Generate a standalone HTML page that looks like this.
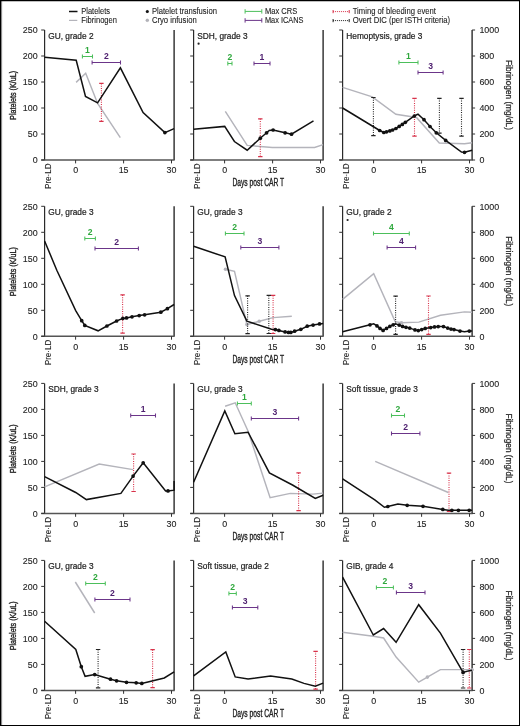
<!DOCTYPE html><html><head><meta charset="utf-8"><style>
html,body{margin:0;padding:0;background:#fff;}
svg{display:block;will-change:transform;}
text{font-family:"Liberation Sans", sans-serif;}
.t{stroke:#222;stroke-width:0.22px;}
.t2{stroke:#222;stroke-width:0.1px;}
</style></head><body>
<svg width="520" height="726" viewBox="0 0 520 726">
<rect x="0" y="0" width="520" height="726" fill="#fff"/>
<g font-size="8.4" fill="#222" class="t2">
<line x1="69" y1="11.5" x2="77.5" y2="11.5" stroke="#111" stroke-width="1.5"/>
<text x="81.3" y="13.9" textLength="28.7" lengthAdjust="spacingAndGlyphs">Platelets</text>
<line x1="69" y1="20.4" x2="77.3" y2="20.4" stroke="#b4b4bb" stroke-width="1.2"/>
<text x="81.3" y="22.9" textLength="35.6" lengthAdjust="spacingAndGlyphs">Fibrinogen</text>
<circle cx="147.3" cy="11.6" r="1.5" fill="#111"/>
<text x="151.9" y="13.9" textLength="65" lengthAdjust="spacingAndGlyphs">Platelet transfusion</text>
<circle cx="147.3" cy="20.3" r="1.5" fill="#b4b4bb"/>
<text x="151.9" y="22.9" textLength="44.8" lengthAdjust="spacingAndGlyphs">Cryo infusion</text>
<path d="M245.1 11.4H261.8M245.1 9.2V13.6M261.8 9.2V13.6" stroke="#4cbf5b" stroke-width="1.00" fill="none"/>
<text x="264.9" y="13.9" textLength="32.3" lengthAdjust="spacingAndGlyphs">Max CRS</text>
<path d="M245.1 20.4H261.8M245.1 18.2V22.6M261.8 18.2V22.6" stroke="#6b3589" stroke-width="1.00" fill="none"/>
<text x="264.9" y="22.9" textLength="38.6" lengthAdjust="spacingAndGlyphs">Max ICANS</text>
<path d="M333.1 11.6H349.2" stroke="#d8324a" stroke-width="1" stroke-dasharray="1,1" fill="none"/><path d="M333.1 10.0V13.2M349.2 10.0V13.2" stroke="#d8324a" stroke-width="1" fill="none"/>
<text x="352.7" y="13.9" textLength="83.3" lengthAdjust="spacingAndGlyphs">Timing of bleeding event</text>
<path d="M333.1 20.6H349.2" stroke="#222" stroke-width="1" stroke-dasharray="1,1" fill="none"/><path d="M333.1 19.0V22.2M349.2 19.0V22.2" stroke="#222" stroke-width="1" fill="none"/>
<text x="352.7" y="22.9" textLength="97.5" lengthAdjust="spacingAndGlyphs">Overt DIC (per ISTH criteria)</text>
</g>
<g>
<path d="M44.6 30.0V160.0" stroke="#2a2a2a" stroke-width="1.2" fill="none"/>
<path d="M174.1 30.0V160.0" stroke="#1a1a1a" stroke-width="1.3" fill="none"/>
<path d="M41.2 160.0H174.7" stroke="#555" stroke-width="1.5" fill="none"/>
<path d="M41.2 30.0H44.6M41.2 56.0H44.6M41.2 82.0H44.6M41.2 108.0H44.6M41.2 134.0H44.6M41.2 160.0H44.6M75.6 160.0V163.4M123.6 160.0V163.4M171.5 160.0V163.4" stroke="#333" stroke-width="1" fill="none"/>
<g font-size="8.9" fill="#222" class="t2">
<text x="37.6" y="33.2" text-anchor="end">250</text>
<text x="37.6" y="59.2" text-anchor="end">200</text>
<text x="37.6" y="85.2" text-anchor="end">150</text>
<text x="37.6" y="111.2" text-anchor="end">100</text>
<text x="37.6" y="137.2" text-anchor="end">50</text>
<text x="37.6" y="163.2" text-anchor="end">0</text>
<text x="75.6" y="173.3" text-anchor="middle">0</text>
<text x="123.6" y="173.3" text-anchor="middle">15</text>
<text x="171.5" y="173.3" text-anchor="middle">30</text>
<text transform="translate(50.9 188.9) rotate(-90)" font-size="9.1" textLength="25.4" lengthAdjust="spacingAndGlyphs">Pre&#183;LD</text>
</g>
<text x="48.3" y="38.5" font-size="8.8" fill="#222" class="t" textLength="45.21" lengthAdjust="spacingAndGlyphs">GU, grade 2</text>
<polyline points="76.1,82.4 85.7,73.3 97.6,103.4 120.3,137.7" fill="none" stroke="#b4b4bb" stroke-width="1.45" stroke-linejoin="miter"/>
<path d="M101.4 83.4V121.4" stroke="#d8324a" stroke-width="1.1" stroke-dasharray="1,1.3" fill="none"/><path d="M99.2 83.4H103.6M99.2 121.4H103.6" stroke="#d8324a" stroke-width="1.2" fill="none"/>
<polyline points="44.6,57.3 76.2,60.2 85.5,96.4 97.6,102.8 120.4,67.8 143.1,112.6 164.9,132.6 174.1,128.6" fill="none" stroke="#111" stroke-width="1.5" stroke-linejoin="miter"/>
<circle cx="164.9" cy="132.6" r="1.85" fill="#111"/>
<path d="M82.4 56.5H92.5M82.4 54.5V58.5M92.5 54.5V58.5" stroke="#4cbf5b" stroke-width="1.05" fill="none"/>
<text x="87.5" y="53.1" font-size="8.6" font-weight="bold" fill="#2fa83d" text-anchor="middle">1</text>
<path d="M92.1 62.5H120.5M92.1 60.5V64.5M120.5 60.5V64.5" stroke="#6b3589" stroke-width="1.05" fill="none"/>
<text x="106.3" y="58.5" font-size="8.6" font-weight="bold" fill="#4f2170" text-anchor="middle">2</text>
</g>
<g>
<path d="M193.6 30.0V160.0" stroke="#2a2a2a" stroke-width="1.2" fill="none"/>
<path d="M323.1 30.0V160.0" stroke="#1a1a1a" stroke-width="1.3" fill="none"/>
<path d="M190.2 160.0H323.7" stroke="#555" stroke-width="1.5" fill="none"/>
<path d="M190.2 30.0H193.6M190.2 56.0H193.6M190.2 82.0H193.6M190.2 108.0H193.6M190.2 134.0H193.6M190.2 160.0H193.6M224.6 160.0V163.4M272.6 160.0V163.4M320.5 160.0V163.4" stroke="#333" stroke-width="1" fill="none"/>
<g font-size="8.9" fill="#222" class="t2">
<text x="224.6" y="173.3" text-anchor="middle">0</text>
<text x="272.6" y="173.3" text-anchor="middle">15</text>
<text x="320.5" y="173.3" text-anchor="middle">30</text>
<text transform="translate(199.9 188.9) rotate(-90)" font-size="9.1" textLength="25.4" lengthAdjust="spacingAndGlyphs">Pre&#183;LD</text>
</g>
<text x="197.3" y="38.5" font-size="8.8" fill="#222" class="t" textLength="50.29" lengthAdjust="spacingAndGlyphs">SDH, grade 3</text>
<circle cx="198.6" cy="43.7" r="1.1" fill="#222"/>
<polyline points="225.3,111.4 247.2,145.4 272.3,147.4 314.6,147.4 323.1,144.6" fill="none" stroke="#b4b4bb" stroke-width="1.45" stroke-linejoin="miter"/>
<path d="M260.3 118.8V156.6" stroke="#d8324a" stroke-width="1.1" stroke-dasharray="1,1.3" fill="none"/><path d="M258.1 118.8H262.5M258.1 156.6H262.5" stroke="#d8324a" stroke-width="1.2" fill="none"/>
<polyline points="193.6,129.3 224.7,126.4 234.4,141.5 247.2,150.2 260.3,138.2 266.6,132.8 269.2,130.5 273.1,130.0 285.1,132.8 291.5,134.2 313.5,120.8" fill="none" stroke="#111" stroke-width="1.5" stroke-linejoin="miter"/>
<circle cx="260.3" cy="138.2" r="1.85" fill="#111"/>
<circle cx="266.6" cy="132.8" r="1.85" fill="#111"/>
<circle cx="273.1" cy="130.0" r="1.85" fill="#111"/>
<circle cx="285.1" cy="132.8" r="1.85" fill="#111"/>
<circle cx="291.5" cy="134.2" r="1.85" fill="#111"/>
<path d="M227.8 63.5H232.0M227.8 61.5V65.5M232.0 61.5V65.5" stroke="#4cbf5b" stroke-width="1.05" fill="none"/>
<text x="229.9" y="60.1" font-size="8.6" font-weight="bold" fill="#2fa83d" text-anchor="middle">2</text>
<path d="M254.0 63.5H270.0M254.0 61.5V65.5M270.0 61.5V65.5" stroke="#6b3589" stroke-width="1.05" fill="none"/>
<text x="262.0" y="59.5" font-size="8.6" font-weight="bold" fill="#4f2170" text-anchor="middle">1</text>
</g>
<g>
<path d="M342.6 30.0V160.0" stroke="#2a2a2a" stroke-width="1.2" fill="none"/>
<path d="M472.1 30.0V160.0" stroke="#1a1a1a" stroke-width="1.3" fill="none"/>
<path d="M339.2 160.0H472.7" stroke="#555" stroke-width="1.5" fill="none"/>
<path d="M339.2 30.0H342.6M472.1 30.0H475.1M339.2 56.0H342.6M472.1 56.0H475.1M339.2 82.0H342.6M472.1 82.0H475.1M339.2 108.0H342.6M472.1 108.0H475.1M339.2 134.0H342.6M472.1 134.0H475.1M339.2 160.0H342.6M472.1 160.0H475.1M373.6 160.0V163.4M421.6 160.0V163.4M469.5 160.0V163.4" stroke="#333" stroke-width="1" fill="none"/>
<g font-size="8.9" fill="#222" class="t2">
<text x="479.4" y="33.2">1000</text>
<text x="479.4" y="59.2">800</text>
<text x="479.4" y="85.2">600</text>
<text x="479.4" y="111.2">400</text>
<text x="479.4" y="137.2">200</text>
<text x="479.4" y="163.2">0</text>
<text x="373.6" y="173.3" text-anchor="middle">0</text>
<text x="421.6" y="173.3" text-anchor="middle">15</text>
<text x="469.5" y="173.3" text-anchor="middle">30</text>
<text transform="translate(348.9 188.9) rotate(-90)" font-size="9.1" textLength="25.4" lengthAdjust="spacingAndGlyphs">Pre&#183;LD</text>
</g>
<text x="346.3" y="38.5" font-size="8.8" fill="#222" class="t" textLength="76.12" lengthAdjust="spacingAndGlyphs">Hemoptysis, grade 3</text>
<polyline points="342.6,87.4 372.3,96.8 395.9,114.3 416.5,117.5 439.3,143.0 464.5,143.7 472.1,142.7" fill="none" stroke="#b4b4bb" stroke-width="1.45" stroke-linejoin="miter"/>
<path d="M373.4 97.5V135.6" stroke="#222" stroke-width="1.1" stroke-dasharray="1,1.3" fill="none"/><path d="M371.2 97.5H375.6M371.2 135.6H375.6" stroke="#222" stroke-width="1.2" fill="none"/>
<path d="M439.4 98.3V133.2" stroke="#222" stroke-width="1.1" stroke-dasharray="1,1.3" fill="none"/><path d="M437.2 98.3H441.6M437.2 133.2H441.6" stroke="#222" stroke-width="1.2" fill="none"/>
<path d="M461.5 98.3V136.2" stroke="#222" stroke-width="1.1" stroke-dasharray="1,1.3" fill="none"/><path d="M459.3 98.3H463.7M459.3 136.2H463.7" stroke="#222" stroke-width="1.2" fill="none"/>
<path d="M414.5 98.3V136.2" stroke="#d8324a" stroke-width="1.1" stroke-dasharray="1,1.3" fill="none"/><path d="M412.3 98.3H416.7M412.3 136.2H416.7" stroke="#d8324a" stroke-width="1.2" fill="none"/>
<polyline points="342.6,108.0 379.7,130.5 383.8,132.5 386.5,131.8 389.8,130.9 392.6,130.0 395.9,128.5 399.2,126.4 402.3,124.4 405.3,122.3 414.3,116.0 418.0,114.2 424.0,119.7 430.0,126.5 436.3,132.8 445.7,140.4 461.5,152.0 464.5,152.3 472.1,150.2" fill="none" stroke="#111" stroke-width="1.5" stroke-linejoin="miter"/>
<circle cx="379.7" cy="130.5" r="1.85" fill="#111"/>
<circle cx="383.8" cy="132.5" r="1.85" fill="#111"/>
<circle cx="386.5" cy="131.8" r="1.85" fill="#111"/>
<circle cx="389.8" cy="130.9" r="1.85" fill="#111"/>
<circle cx="392.6" cy="130.0" r="1.85" fill="#111"/>
<circle cx="395.9" cy="128.5" r="1.85" fill="#111"/>
<circle cx="399.2" cy="126.4" r="1.85" fill="#111"/>
<circle cx="402.3" cy="124.4" r="1.85" fill="#111"/>
<circle cx="405.3" cy="122.3" r="1.85" fill="#111"/>
<circle cx="414.3" cy="116.0" r="1.85" fill="#111"/>
<circle cx="424.0" cy="119.7" r="1.85" fill="#111"/>
<circle cx="430.0" cy="126.5" r="1.85" fill="#111"/>
<circle cx="436.3" cy="132.8" r="1.85" fill="#111"/>
<circle cx="445.7" cy="140.4" r="1.85" fill="#111"/>
<circle cx="464.5" cy="152.3" r="1.85" fill="#111"/>
<path d="M398.9 62.5H418.0M398.9 60.5V64.5M418.0 60.5V64.5" stroke="#4cbf5b" stroke-width="1.05" fill="none"/>
<text x="408.4" y="59.1" font-size="8.6" font-weight="bold" fill="#2fa83d" text-anchor="middle">1</text>
<path d="M418.0 72.5H443.1M418.0 70.5V74.5M443.1 70.5V74.5" stroke="#6b3589" stroke-width="1.05" fill="none"/>
<text x="430.6" y="68.5" font-size="8.6" font-weight="bold" fill="#4f2170" text-anchor="middle">3</text>
</g>
<g>
<path d="M44.6 206.3V336.3" stroke="#2a2a2a" stroke-width="1.2" fill="none"/>
<path d="M174.1 206.3V336.3" stroke="#1a1a1a" stroke-width="1.3" fill="none"/>
<path d="M41.2 336.3H174.7" stroke="#555" stroke-width="1.5" fill="none"/>
<path d="M41.2 206.3H44.6M41.2 232.3H44.6M41.2 258.3H44.6M41.2 284.3H44.6M41.2 310.3H44.6M41.2 336.3H44.6M75.6 336.3V339.7M123.6 336.3V339.7M171.5 336.3V339.7" stroke="#333" stroke-width="1" fill="none"/>
<g font-size="8.9" fill="#222" class="t2">
<text x="37.6" y="209.5" text-anchor="end">250</text>
<text x="37.6" y="235.5" text-anchor="end">200</text>
<text x="37.6" y="261.5" text-anchor="end">150</text>
<text x="37.6" y="287.5" text-anchor="end">100</text>
<text x="37.6" y="313.5" text-anchor="end">50</text>
<text x="37.6" y="339.5" text-anchor="end">0</text>
<text x="75.6" y="349.6" text-anchor="middle">0</text>
<text x="123.6" y="349.6" text-anchor="middle">15</text>
<text x="171.5" y="349.6" text-anchor="middle">30</text>
<text transform="translate(50.9 365.2) rotate(-90)" font-size="9.1" textLength="25.4" lengthAdjust="spacingAndGlyphs">Pre&#183;LD</text>
</g>
<text x="48.3" y="214.9" font-size="8.8" fill="#222" class="t" textLength="45.21" lengthAdjust="spacingAndGlyphs">GU, grade 3</text>
<path d="M122.6 294.9V333.1" stroke="#d8324a" stroke-width="1.1" stroke-dasharray="1,1.3" fill="none"/><path d="M120.4 294.9H124.8M120.4 333.1H124.8" stroke="#d8324a" stroke-width="1.2" fill="none"/>
<polyline points="44.6,241.0 56.8,270.2 75.7,310.6 81.7,320.7 84.8,325.4 98.1,330.8 106.9,326.0 116.6,321.0 122.8,318.4 126.5,317.9 132.0,316.8 139.2,315.6 144.6,314.8 160.8,312.2 167.4,308.7 174.1,304.5" fill="none" stroke="#111" stroke-width="1.5" stroke-linejoin="miter"/>
<circle cx="81.7" cy="320.7" r="1.85" fill="#111"/>
<circle cx="84.8" cy="325.4" r="1.85" fill="#111"/>
<circle cx="106.9" cy="326.0" r="1.85" fill="#111"/>
<circle cx="116.6" cy="321.0" r="1.85" fill="#111"/>
<circle cx="122.8" cy="318.4" r="1.85" fill="#111"/>
<circle cx="126.5" cy="317.9" r="1.85" fill="#111"/>
<circle cx="132.0" cy="316.8" r="1.85" fill="#111"/>
<circle cx="139.2" cy="315.6" r="1.85" fill="#111"/>
<circle cx="144.6" cy="314.8" r="1.85" fill="#111"/>
<circle cx="160.8" cy="312.2" r="1.85" fill="#111"/>
<circle cx="167.4" cy="308.7" r="1.85" fill="#111"/>
<path d="M84.8 238.5H95.4M84.8 236.5V240.5M95.4 236.5V240.5" stroke="#4cbf5b" stroke-width="1.05" fill="none"/>
<text x="90.1" y="235.1" font-size="8.6" font-weight="bold" fill="#2fa83d" text-anchor="middle">2</text>
<path d="M95.0 248.5H138.4M95.0 246.5V250.5M138.4 246.5V250.5" stroke="#6b3589" stroke-width="1.05" fill="none"/>
<text x="116.7" y="244.5" font-size="8.6" font-weight="bold" fill="#4f2170" text-anchor="middle">2</text>
</g>
<g>
<path d="M193.6 206.3V336.3" stroke="#2a2a2a" stroke-width="1.2" fill="none"/>
<path d="M323.1 206.3V336.3" stroke="#1a1a1a" stroke-width="1.3" fill="none"/>
<path d="M190.2 336.3H323.7" stroke="#555" stroke-width="1.5" fill="none"/>
<path d="M190.2 206.3H193.6M190.2 232.3H193.6M190.2 258.3H193.6M190.2 284.3H193.6M190.2 310.3H193.6M190.2 336.3H193.6M224.6 336.3V339.7M272.6 336.3V339.7M320.5 336.3V339.7" stroke="#333" stroke-width="1" fill="none"/>
<g font-size="8.9" fill="#222" class="t2">
<text x="224.6" y="349.6" text-anchor="middle">0</text>
<text x="272.6" y="349.6" text-anchor="middle">15</text>
<text x="320.5" y="349.6" text-anchor="middle">30</text>
<text transform="translate(199.9 365.2) rotate(-90)" font-size="9.1" textLength="25.4" lengthAdjust="spacingAndGlyphs">Pre&#183;LD</text>
</g>
<text x="197.3" y="214.9" font-size="8.8" fill="#222" class="t" textLength="45.21" lengthAdjust="spacingAndGlyphs">GU, grade 3</text>
<polyline points="225.5,269.3 234.5,271.4 246.9,324.6 259.2,321.2 273.1,317.6 291.8,316.2" fill="none" stroke="#b4b4bb" stroke-width="1.45" stroke-linejoin="miter"/>
<circle cx="225.5" cy="269.3" r="1.8" fill="#b4b4bb"/>
<circle cx="246.9" cy="324.6" r="1.8" fill="#b4b4bb"/>
<circle cx="259.2" cy="321.2" r="1.8" fill="#b4b4bb"/>
<path d="M247.6 295.8V333.7" stroke="#222" stroke-width="1.1" stroke-dasharray="1,1.3" fill="none"/><path d="M245.4 295.8H249.8M245.4 333.7H249.8" stroke="#222" stroke-width="1.2" fill="none"/>
<path d="M268.8 295.4V333.5" stroke="#222" stroke-width="1.1" stroke-dasharray="1,1.3" fill="none"/><path d="M266.6 295.4H271.0M266.6 333.5H271.0" stroke="#222" stroke-width="1.2" fill="none"/>
<path d="M273.1 295.4V333.5" stroke="#d8324a" stroke-width="1.1" stroke-dasharray="1,1.3" fill="none"/><path d="M270.9 295.4H275.3M270.9 333.5H275.3" stroke="#d8324a" stroke-width="1.2" fill="none"/>
<polyline points="193.6,246.2 225.1,256.9 234.5,295.6 246.9,321.1 271.5,329.3 275.4,329.6 278.9,330.4 285.1,331.9 288.5,332.4 290.8,332.4 294.6,331.2 300.8,329.3 307.2,326.2 313.1,325.1 319.5,323.9 323.1,323.6" fill="none" stroke="#111" stroke-width="1.5" stroke-linejoin="miter"/>
<circle cx="275.4" cy="329.6" r="1.85" fill="#111"/>
<circle cx="278.9" cy="330.4" r="1.85" fill="#111"/>
<circle cx="285.1" cy="331.9" r="1.85" fill="#111"/>
<circle cx="288.5" cy="332.4" r="1.85" fill="#111"/>
<circle cx="290.8" cy="332.4" r="1.85" fill="#111"/>
<circle cx="294.6" cy="331.2" r="1.85" fill="#111"/>
<circle cx="300.8" cy="329.3" r="1.85" fill="#111"/>
<circle cx="307.2" cy="326.2" r="1.85" fill="#111"/>
<circle cx="313.1" cy="325.1" r="1.85" fill="#111"/>
<circle cx="319.5" cy="323.9" r="1.85" fill="#111"/>
<path d="M225.4 233.5H244.0M225.4 231.5V235.5M244.0 231.5V235.5" stroke="#4cbf5b" stroke-width="1.05" fill="none"/>
<text x="234.7" y="230.1" font-size="8.6" font-weight="bold" fill="#2fa83d" text-anchor="middle">2</text>
<path d="M240.8 247.5H278.9M240.8 245.5V249.5M278.9 245.5V249.5" stroke="#6b3589" stroke-width="1.05" fill="none"/>
<text x="259.9" y="243.5" font-size="8.6" font-weight="bold" fill="#4f2170" text-anchor="middle">3</text>
</g>
<g>
<path d="M342.6 206.3V336.3" stroke="#2a2a2a" stroke-width="1.2" fill="none"/>
<path d="M472.1 206.3V336.3" stroke="#1a1a1a" stroke-width="1.3" fill="none"/>
<path d="M339.2 336.3H472.7" stroke="#555" stroke-width="1.5" fill="none"/>
<path d="M339.2 206.3H342.6M472.1 206.3H475.1M339.2 232.3H342.6M472.1 232.3H475.1M339.2 258.3H342.6M472.1 258.3H475.1M339.2 284.3H342.6M472.1 284.3H475.1M339.2 310.3H342.6M472.1 310.3H475.1M339.2 336.3H342.6M472.1 336.3H475.1M373.6 336.3V339.7M421.6 336.3V339.7M469.5 336.3V339.7" stroke="#333" stroke-width="1" fill="none"/>
<g font-size="8.9" fill="#222" class="t2">
<text x="479.4" y="209.5">1000</text>
<text x="479.4" y="235.5">800</text>
<text x="479.4" y="261.5">600</text>
<text x="479.4" y="287.5">400</text>
<text x="479.4" y="313.5">200</text>
<text x="479.4" y="339.5">0</text>
<text x="373.6" y="349.6" text-anchor="middle">0</text>
<text x="421.6" y="349.6" text-anchor="middle">15</text>
<text x="469.5" y="349.6" text-anchor="middle">30</text>
<text transform="translate(348.9 365.2) rotate(-90)" font-size="9.1" textLength="25.4" lengthAdjust="spacingAndGlyphs">Pre&#183;LD</text>
</g>
<text x="346.3" y="214.9" font-size="8.8" fill="#222" class="t" textLength="45.21" lengthAdjust="spacingAndGlyphs">GU, grade 2</text>
<circle cx="347.6" cy="220.0" r="1.1" fill="#222"/>
<polyline points="342.6,299.4 373.7,273.6 395.2,321.6 401.5,322.8 418.8,322.1 440.5,315.2 464.5,311.9 472.1,312.2" fill="none" stroke="#b4b4bb" stroke-width="1.45" stroke-linejoin="miter"/>
<circle cx="401.5" cy="322.8" r="1.8" fill="#b4b4bb"/>
<path d="M395.6 296.1V334.3" stroke="#222" stroke-width="1.1" stroke-dasharray="1,1.3" fill="none"/><path d="M393.4 296.1H397.8M393.4 334.3H397.8" stroke="#222" stroke-width="1.2" fill="none"/>
<path d="M428.5 296.0V334.3" stroke="#d8324a" stroke-width="1.1" stroke-dasharray="1,1.3" fill="none"/><path d="M426.3 296.0H430.7M426.3 334.3H430.7" stroke="#d8324a" stroke-width="1.2" fill="none"/>
<polyline points="342.6,331.8 370.0,324.8 373.7,323.8 377.0,325.9 380.0,328.4 383.1,330.4 386.5,328.4 389.8,326.4 393.2,324.8 395.6,323.8 399.2,325.1 402.6,326.4 406.0,327.3 409.7,328.1 415.0,329.9 418.3,330.6 421.7,329.6 425.2,328.4 430.7,327.6 434.5,326.9 438.2,326.6 443.5,326.6 447.7,328.1 451.0,329.1 454.0,329.6 460.0,331.1 464.5,331.8 469.3,331.1 472.1,330.9" fill="none" stroke="#111" stroke-width="1.5" stroke-linejoin="miter"/>
<circle cx="370.0" cy="324.8" r="1.85" fill="#111"/>
<circle cx="377.0" cy="325.9" r="1.85" fill="#111"/>
<circle cx="380.0" cy="328.4" r="1.85" fill="#111"/>
<circle cx="383.1" cy="330.4" r="1.85" fill="#111"/>
<circle cx="386.5" cy="328.4" r="1.85" fill="#111"/>
<circle cx="389.8" cy="326.4" r="1.85" fill="#111"/>
<circle cx="393.2" cy="324.8" r="1.85" fill="#111"/>
<circle cx="399.2" cy="325.1" r="1.85" fill="#111"/>
<circle cx="402.6" cy="326.4" r="1.85" fill="#111"/>
<circle cx="406.0" cy="327.3" r="1.85" fill="#111"/>
<circle cx="409.7" cy="328.1" r="1.85" fill="#111"/>
<circle cx="415.0" cy="329.9" r="1.85" fill="#111"/>
<circle cx="418.3" cy="330.6" r="1.85" fill="#111"/>
<circle cx="421.7" cy="329.6" r="1.85" fill="#111"/>
<circle cx="425.2" cy="328.4" r="1.85" fill="#111"/>
<circle cx="430.7" cy="327.6" r="1.85" fill="#111"/>
<circle cx="434.5" cy="326.9" r="1.85" fill="#111"/>
<circle cx="438.2" cy="326.6" r="1.85" fill="#111"/>
<circle cx="443.5" cy="326.6" r="1.85" fill="#111"/>
<circle cx="447.7" cy="328.1" r="1.85" fill="#111"/>
<circle cx="451.0" cy="329.1" r="1.85" fill="#111"/>
<circle cx="454.0" cy="329.6" r="1.85" fill="#111"/>
<circle cx="460.0" cy="331.1" r="1.85" fill="#111"/>
<circle cx="469.3" cy="331.1" r="1.85" fill="#111"/>
<path d="M373.5 233.5H409.3M373.5 231.5V235.5M409.3 231.5V235.5" stroke="#4cbf5b" stroke-width="1.05" fill="none"/>
<text x="391.4" y="230.1" font-size="8.6" font-weight="bold" fill="#2fa83d" text-anchor="middle">4</text>
<path d="M387.1 247.5H415.6M387.1 245.5V249.5M415.6 245.5V249.5" stroke="#6b3589" stroke-width="1.05" fill="none"/>
<text x="401.4" y="243.5" font-size="8.6" font-weight="bold" fill="#4f2170" text-anchor="middle">4</text>
</g>
<g>
<path d="M44.6 383.4V513.4" stroke="#2a2a2a" stroke-width="1.2" fill="none"/>
<path d="M174.1 383.4V513.4" stroke="#1a1a1a" stroke-width="1.3" fill="none"/>
<path d="M41.2 513.4H174.7" stroke="#555" stroke-width="1.5" fill="none"/>
<path d="M41.2 383.4H44.6M41.2 409.4H44.6M41.2 435.4H44.6M41.2 461.4H44.6M41.2 487.4H44.6M41.2 513.4H44.6M75.6 513.4V516.8M123.6 513.4V516.8M171.5 513.4V516.8" stroke="#333" stroke-width="1" fill="none"/>
<g font-size="8.9" fill="#222" class="t2">
<text x="37.6" y="386.6" text-anchor="end">250</text>
<text x="37.6" y="412.6" text-anchor="end">200</text>
<text x="37.6" y="438.6" text-anchor="end">150</text>
<text x="37.6" y="464.6" text-anchor="end">100</text>
<text x="37.6" y="490.6" text-anchor="end">50</text>
<text x="37.6" y="516.6" text-anchor="end">0</text>
<text x="75.6" y="526.7" text-anchor="middle">0</text>
<text x="123.6" y="526.7" text-anchor="middle">15</text>
<text x="171.5" y="526.7" text-anchor="middle">30</text>
<text transform="translate(50.9 542.3) rotate(-90)" font-size="9.1" textLength="25.4" lengthAdjust="spacingAndGlyphs">Pre&#183;LD</text>
</g>
<text x="48.3" y="391.8" font-size="8.8" fill="#222" class="t" textLength="50.29" lengthAdjust="spacingAndGlyphs">SDH, grade 3</text>
<polyline points="44.6,486.8 99.2,464.0 133.1,469.6" fill="none" stroke="#b4b4bb" stroke-width="1.45" stroke-linejoin="miter"/>
<path d="M133.6 454.0V491.5" stroke="#d8324a" stroke-width="1.1" stroke-dasharray="1,1.3" fill="none"/><path d="M131.4 454.0H135.8M131.4 491.5H135.8" stroke="#d8324a" stroke-width="1.2" fill="none"/>
<polyline points="44.6,476.6 75.7,492.5 86.4,499.6 120.9,493.4 133.1,476.1 143.2,462.8 165.6,490.9 168.0,490.9 174.1,490.2 174.1,481.0" fill="none" stroke="#111" stroke-width="1.5" stroke-linejoin="miter"/>
<circle cx="133.1" cy="476.1" r="1.85" fill="#111"/>
<circle cx="143.2" cy="462.8" r="1.85" fill="#111"/>
<circle cx="168.0" cy="490.9" r="1.85" fill="#111"/>
<path d="M130.7 415.5H155.5M130.7 413.5V417.5M155.5 413.5V417.5" stroke="#6b3589" stroke-width="1.05" fill="none"/>
<text x="143.1" y="411.5" font-size="8.6" font-weight="bold" fill="#4f2170" text-anchor="middle">1</text>
</g>
<g>
<path d="M193.6 383.4V513.4" stroke="#2a2a2a" stroke-width="1.2" fill="none"/>
<path d="M323.1 383.4V513.4" stroke="#1a1a1a" stroke-width="1.3" fill="none"/>
<path d="M190.2 513.4H323.7" stroke="#555" stroke-width="1.5" fill="none"/>
<path d="M190.2 383.4H193.6M190.2 409.4H193.6M190.2 435.4H193.6M190.2 461.4H193.6M190.2 487.4H193.6M190.2 513.4H193.6M224.6 513.4V516.8M272.6 513.4V516.8M320.5 513.4V516.8" stroke="#333" stroke-width="1" fill="none"/>
<g font-size="8.9" fill="#222" class="t2">
<text x="224.6" y="526.7" text-anchor="middle">0</text>
<text x="272.6" y="526.7" text-anchor="middle">15</text>
<text x="320.5" y="526.7" text-anchor="middle">30</text>
<text transform="translate(199.9 542.3) rotate(-90)" font-size="9.1" textLength="25.4" lengthAdjust="spacingAndGlyphs">Pre&#183;LD</text>
</g>
<text x="197.3" y="391.8" font-size="8.8" fill="#222" class="t" textLength="45.21" lengthAdjust="spacingAndGlyphs">GU, grade 3</text>
<polyline points="225.1,406.3 235.2,402.8 248.0,431.0 270.1,497.7 290.3,493.4 312.7,494.1 323.1,493.1" fill="none" stroke="#b4b4bb" stroke-width="1.45" stroke-linejoin="miter"/>
<path d="M298.6 472.9V510.7" stroke="#d8324a" stroke-width="1.1" stroke-dasharray="1,1.3" fill="none"/><path d="M296.4 472.9H300.8M296.4 510.7H300.8" stroke="#d8324a" stroke-width="1.2" fill="none"/>
<polyline points="193.6,482.3 224.8,410.9 234.9,433.7 248.1,432.2 269.4,472.9 292.5,485.0 315.3,498.4 323.1,495.2" fill="none" stroke="#111" stroke-width="1.5" stroke-linejoin="miter"/>
<path d="M237.4 403.5H251.3M237.4 401.5V405.5M251.3 401.5V405.5" stroke="#4cbf5b" stroke-width="1.05" fill="none"/>
<text x="244.4" y="400.1" font-size="8.6" font-weight="bold" fill="#2fa83d" text-anchor="middle">1</text>
<path d="M251.3 418.5H298.6M251.3 416.5V420.5M298.6 416.5V420.5" stroke="#6b3589" stroke-width="1.05" fill="none"/>
<text x="275.0" y="414.5" font-size="8.6" font-weight="bold" fill="#4f2170" text-anchor="middle">3</text>
</g>
<g>
<path d="M342.6 383.4V513.4" stroke="#2a2a2a" stroke-width="1.2" fill="none"/>
<path d="M472.1 383.4V513.4" stroke="#1a1a1a" stroke-width="1.3" fill="none"/>
<path d="M339.2 513.4H472.7" stroke="#555" stroke-width="1.5" fill="none"/>
<path d="M339.2 383.4H342.6M472.1 383.4H475.1M339.2 409.4H342.6M472.1 409.4H475.1M339.2 435.4H342.6M472.1 435.4H475.1M339.2 461.4H342.6M472.1 461.4H475.1M339.2 487.4H342.6M472.1 487.4H475.1M339.2 513.4H342.6M472.1 513.4H475.1M373.6 513.4V516.8M421.6 513.4V516.8M469.5 513.4V516.8" stroke="#333" stroke-width="1" fill="none"/>
<g font-size="8.9" fill="#222" class="t2">
<text x="479.4" y="386.6">1000</text>
<text x="479.4" y="412.6">800</text>
<text x="479.4" y="438.6">600</text>
<text x="479.4" y="464.6">400</text>
<text x="479.4" y="490.6">200</text>
<text x="479.4" y="516.6">0</text>
<text x="373.6" y="526.7" text-anchor="middle">0</text>
<text x="421.6" y="526.7" text-anchor="middle">15</text>
<text x="469.5" y="526.7" text-anchor="middle">30</text>
<text transform="translate(348.9 542.3) rotate(-90)" font-size="9.1" textLength="25.4" lengthAdjust="spacingAndGlyphs">Pre&#183;LD</text>
</g>
<text x="346.3" y="391.8" font-size="8.8" fill="#222" class="t" textLength="71.51" lengthAdjust="spacingAndGlyphs">Soft tissue, grade 3</text>
<polyline points="375.2,461.3 448.3,492.5" fill="none" stroke="#b4b4bb" stroke-width="1.45" stroke-linejoin="miter"/>
<path d="M449.0 473.1V511.5" stroke="#d8324a" stroke-width="1.1" stroke-dasharray="1,1.3" fill="none"/><path d="M446.8 473.1H451.2M446.8 511.5H451.2" stroke="#d8324a" stroke-width="1.2" fill="none"/>
<polyline points="342.6,478.8 374.8,499.8 384.4,507.3 387.8,506.5 397.9,504.1 407.2,505.3 423.0,506.3 442.8,509.4 448.3,510.3 451.9,510.3 458.4,510.3 469.2,510.3 472.1,510.3" fill="none" stroke="#111" stroke-width="1.5" stroke-linejoin="miter"/>
<circle cx="387.8" cy="506.5" r="1.85" fill="#111"/>
<circle cx="407.2" cy="505.3" r="1.85" fill="#111"/>
<circle cx="423.0" cy="506.3" r="1.85" fill="#111"/>
<circle cx="442.8" cy="509.4" r="1.85" fill="#111"/>
<circle cx="451.9" cy="510.3" r="1.85" fill="#111"/>
<circle cx="458.4" cy="510.3" r="1.85" fill="#111"/>
<circle cx="469.2" cy="510.3" r="1.85" fill="#111"/>
<path d="M391.5 415.5H404.5M391.5 413.5V417.5M404.5 413.5V417.5" stroke="#4cbf5b" stroke-width="1.05" fill="none"/>
<text x="398.0" y="412.1" font-size="8.6" font-weight="bold" fill="#2fa83d" text-anchor="middle">2</text>
<path d="M391.5 433.5H419.9M391.5 431.5V435.5M419.9 431.5V435.5" stroke="#6b3589" stroke-width="1.05" fill="none"/>
<text x="405.7" y="429.5" font-size="8.6" font-weight="bold" fill="#4f2170" text-anchor="middle">2</text>
</g>
<g>
<path d="M44.6 560.4V690.4" stroke="#2a2a2a" stroke-width="1.2" fill="none"/>
<path d="M174.1 560.4V690.4" stroke="#1a1a1a" stroke-width="1.3" fill="none"/>
<path d="M41.2 690.4H174.7" stroke="#555" stroke-width="1.5" fill="none"/>
<path d="M41.2 560.4H44.6M41.2 586.4H44.6M41.2 612.4H44.6M41.2 638.4H44.6M41.2 664.4H44.6M41.2 690.4H44.6M75.6 690.4V693.8M123.6 690.4V693.8M171.5 690.4V693.8" stroke="#333" stroke-width="1" fill="none"/>
<g font-size="8.9" fill="#222" class="t2">
<text x="37.6" y="563.6" text-anchor="end">250</text>
<text x="37.6" y="589.6" text-anchor="end">200</text>
<text x="37.6" y="615.6" text-anchor="end">150</text>
<text x="37.6" y="641.6" text-anchor="end">100</text>
<text x="37.6" y="667.6" text-anchor="end">50</text>
<text x="37.6" y="693.6" text-anchor="end">0</text>
<text x="75.6" y="703.7" text-anchor="middle">0</text>
<text x="123.6" y="703.7" text-anchor="middle">15</text>
<text x="171.5" y="703.7" text-anchor="middle">30</text>
<text transform="translate(50.9 719.3) rotate(-90)" font-size="9.1" textLength="25.4" lengthAdjust="spacingAndGlyphs">Pre&#183;LD</text>
</g>
<text x="48.3" y="568.5" font-size="8.8" fill="#222" class="t" textLength="45.21" lengthAdjust="spacingAndGlyphs">GU, grade 3</text>
<polyline points="75.3,582.0 94.7,613.0" fill="none" stroke="#b4b4bb" stroke-width="1.45" stroke-linejoin="miter"/>
<path d="M98.1 649.5V687.8" stroke="#222" stroke-width="1.1" stroke-dasharray="1,1.3" fill="none"/><path d="M95.9 649.5H100.3M95.9 687.8H100.3" stroke="#222" stroke-width="1.2" fill="none"/>
<path d="M152.6 649.7V687.7" stroke="#d8324a" stroke-width="1.1" stroke-dasharray="1,1.3" fill="none"/><path d="M150.4 649.7H154.8M150.4 687.7H154.8" stroke="#d8324a" stroke-width="1.2" fill="none"/>
<polyline points="44.6,621.3 75.8,649.5 81.3,666.7 85.1,676.3 94.7,674.6 110.5,679.2 116.6,680.8 126.5,682.3 136.2,682.8 141.8,683.4 164.3,678.0 174.1,671.8" fill="none" stroke="#111" stroke-width="1.5" stroke-linejoin="miter"/>
<circle cx="81.3" cy="666.7" r="1.85" fill="#111"/>
<circle cx="94.7" cy="674.6" r="1.85" fill="#111"/>
<circle cx="110.5" cy="679.2" r="1.85" fill="#111"/>
<circle cx="116.6" cy="680.8" r="1.85" fill="#111"/>
<circle cx="126.5" cy="682.3" r="1.85" fill="#111"/>
<circle cx="136.2" cy="682.8" r="1.85" fill="#111"/>
<circle cx="141.8" cy="683.4" r="1.85" fill="#111"/>
<path d="M85.7 583.5H105.3M85.7 581.5V585.5M105.3 581.5V585.5" stroke="#4cbf5b" stroke-width="1.05" fill="none"/>
<text x="95.5" y="580.1" font-size="8.6" font-weight="bold" fill="#2fa83d" text-anchor="middle">2</text>
<path d="M94.9 599.5H130.0M94.9 597.5V601.5M130.0 597.5V601.5" stroke="#6b3589" stroke-width="1.05" fill="none"/>
<text x="112.5" y="595.5" font-size="8.6" font-weight="bold" fill="#4f2170" text-anchor="middle">2</text>
</g>
<g>
<path d="M193.6 560.4V690.4" stroke="#2a2a2a" stroke-width="1.2" fill="none"/>
<path d="M323.1 560.4V690.4" stroke="#1a1a1a" stroke-width="1.3" fill="none"/>
<path d="M190.2 690.4H323.7" stroke="#555" stroke-width="1.5" fill="none"/>
<path d="M190.2 560.4H193.6M190.2 586.4H193.6M190.2 612.4H193.6M190.2 638.4H193.6M190.2 664.4H193.6M190.2 690.4H193.6M224.6 690.4V693.8M272.6 690.4V693.8M320.5 690.4V693.8" stroke="#333" stroke-width="1" fill="none"/>
<g font-size="8.9" fill="#222" class="t2">
<text x="224.6" y="703.7" text-anchor="middle">0</text>
<text x="272.6" y="703.7" text-anchor="middle">15</text>
<text x="320.5" y="703.7" text-anchor="middle">30</text>
<text transform="translate(199.9 719.3) rotate(-90)" font-size="9.1" textLength="25.4" lengthAdjust="spacingAndGlyphs">Pre&#183;LD</text>
</g>
<text x="197.3" y="568.5" font-size="8.8" fill="#222" class="t" textLength="71.51" lengthAdjust="spacingAndGlyphs">Soft tissue, grade 2</text>
<path d="M315.6 651.3V689.1" stroke="#d8324a" stroke-width="1.1" stroke-dasharray="1,1.3" fill="none"/><path d="M313.4 651.3H317.8M313.4 689.1H317.8" stroke="#d8324a" stroke-width="1.2" fill="none"/>
<polyline points="193.6,675.9 225.8,651.9 235.2,676.9 248.1,679.0 270.6,675.9 291.8,679.0 304.0,683.4 315.3,686.3 323.1,683.1" fill="none" stroke="#111" stroke-width="1.5" stroke-linejoin="miter"/>
<path d="M228.9 593.5H236.3M228.9 591.5V595.5M236.3 591.5V595.5" stroke="#4cbf5b" stroke-width="1.05" fill="none"/>
<text x="232.6" y="590.1" font-size="8.6" font-weight="bold" fill="#2fa83d" text-anchor="middle">2</text>
<path d="M232.4 607.5H257.8M232.4 605.5V609.5M257.8 605.5V609.5" stroke="#6b3589" stroke-width="1.05" fill="none"/>
<text x="245.1" y="603.5" font-size="8.6" font-weight="bold" fill="#4f2170" text-anchor="middle">3</text>
</g>
<g>
<path d="M342.6 560.4V690.4" stroke="#2a2a2a" stroke-width="1.2" fill="none"/>
<path d="M472.1 560.4V690.4" stroke="#1a1a1a" stroke-width="1.3" fill="none"/>
<path d="M339.2 690.4H472.7" stroke="#555" stroke-width="1.5" fill="none"/>
<path d="M339.2 560.4H342.6M472.1 560.4H475.1M339.2 586.4H342.6M472.1 586.4H475.1M339.2 612.4H342.6M472.1 612.4H475.1M339.2 638.4H342.6M472.1 638.4H475.1M339.2 664.4H342.6M472.1 664.4H475.1M339.2 690.4H342.6M472.1 690.4H475.1M373.6 690.4V693.8M421.6 690.4V693.8M469.5 690.4V693.8" stroke="#333" stroke-width="1" fill="none"/>
<g font-size="8.9" fill="#222" class="t2">
<text x="479.4" y="563.6">1000</text>
<text x="479.4" y="589.6">800</text>
<text x="479.4" y="615.6">600</text>
<text x="479.4" y="641.6">400</text>
<text x="479.4" y="667.6">200</text>
<text x="479.4" y="693.6">0</text>
<text x="373.6" y="703.7" text-anchor="middle">0</text>
<text x="421.6" y="703.7" text-anchor="middle">15</text>
<text x="469.5" y="703.7" text-anchor="middle">30</text>
<text transform="translate(348.9 719.3) rotate(-90)" font-size="9.1" textLength="25.4" lengthAdjust="spacingAndGlyphs">Pre&#183;LD</text>
</g>
<text x="346.3" y="568.5" font-size="8.8" fill="#222" class="t" textLength="47.06" lengthAdjust="spacingAndGlyphs">GIB, grade 4</text>
<polyline points="342.6,632.3 373.3,636.2 383.6,638.0 396.1,657.1 418.7,682.2 427.4,677.1 440.4,669.6 462.8,669.6 472.1,669.8" fill="none" stroke="#b4b4bb" stroke-width="1.45" stroke-linejoin="miter"/>
<circle cx="427.4" cy="677.1" r="1.8" fill="#b4b4bb"/>
<circle cx="472.1" cy="669.8" r="1.8" fill="#b4b4bb"/>
<path d="M463.1 649.5V688.0" stroke="#222" stroke-width="1.1" stroke-dasharray="1,1.3" fill="none"/><path d="M460.9 649.5H465.3M460.9 688.0H465.3" stroke="#222" stroke-width="1.2" fill="none"/>
<path d="M469.3 649.5V688.0" stroke="#d8324a" stroke-width="1.1" stroke-dasharray="1,1.3" fill="none"/><path d="M467.1 649.5H471.5M467.1 688.0H471.5" stroke="#d8324a" stroke-width="1.2" fill="none"/>
<polyline points="342.6,577.2 373.3,635.0 383.6,628.5 396.1,642.3 418.7,604.7 440.4,633.1 463.1,672.4 468.6,670.9 472.1,670.2" fill="none" stroke="#111" stroke-width="1.5" stroke-linejoin="miter"/>
<circle cx="463.1" cy="672.4" r="1.85" fill="#111"/>
<path d="M376.4 587.5H393.4M376.4 585.5V589.5M393.4 585.5V589.5" stroke="#4cbf5b" stroke-width="1.05" fill="none"/>
<text x="384.9" y="584.1" font-size="8.6" font-weight="bold" fill="#2fa83d" text-anchor="middle">2</text>
<path d="M396.4 592.5H425.0M396.4 590.5V594.5M425.0 590.5V594.5" stroke="#6b3589" stroke-width="1.05" fill="none"/>
<text x="410.7" y="588.5" font-size="8.6" font-weight="bold" fill="#4f2170" text-anchor="middle">3</text>
</g>
<text transform="translate(15.6 95.4) rotate(-90)" font-size="9.2" fill="#222" style="stroke:#222;stroke-width:0.35px" text-anchor="middle" textLength="49" lengthAdjust="spacingAndGlyphs">Platelets (K/uL)</text>
<text transform="translate(505.6 95.0) rotate(90)" font-size="8.3" fill="#222" class="t" text-anchor="middle" textLength="70" lengthAdjust="spacingAndGlyphs">Fibrinogen (mg/dL)</text>
<text x="258.3" y="185.6" font-size="10" fill="#222" style="stroke:#222;stroke-width:0.35px" text-anchor="middle" textLength="51.8" lengthAdjust="spacingAndGlyphs">Days post CAR T</text>
<text transform="translate(15.6 271.7) rotate(-90)" font-size="9.2" fill="#222" style="stroke:#222;stroke-width:0.35px" text-anchor="middle" textLength="49" lengthAdjust="spacingAndGlyphs">Platelets (K/uL)</text>
<text transform="translate(505.6 271.3) rotate(90)" font-size="8.3" fill="#222" class="t" text-anchor="middle" textLength="70" lengthAdjust="spacingAndGlyphs">Fibrinogen (mg/dL)</text>
<text x="258.3" y="362.8" font-size="10" fill="#222" style="stroke:#222;stroke-width:0.35px" text-anchor="middle" textLength="51.8" lengthAdjust="spacingAndGlyphs">Days post CAR T</text>
<text transform="translate(15.6 448.8) rotate(-90)" font-size="9.2" fill="#222" style="stroke:#222;stroke-width:0.35px" text-anchor="middle" textLength="49" lengthAdjust="spacingAndGlyphs">Platelets (K/uL)</text>
<text transform="translate(505.6 448.4) rotate(90)" font-size="8.3" fill="#222" class="t" text-anchor="middle" textLength="70" lengthAdjust="spacingAndGlyphs">Fibrinogen (mg/dL)</text>
<text x="258.3" y="539.9" font-size="10" fill="#222" style="stroke:#222;stroke-width:0.35px" text-anchor="middle" textLength="51.8" lengthAdjust="spacingAndGlyphs">Days post CAR T</text>
<text transform="translate(15.6 625.8) rotate(-90)" font-size="9.2" fill="#222" style="stroke:#222;stroke-width:0.35px" text-anchor="middle" textLength="49" lengthAdjust="spacingAndGlyphs">Platelets (K/uL)</text>
<text transform="translate(505.6 625.4) rotate(90)" font-size="8.3" fill="#222" class="t" text-anchor="middle" textLength="70" lengthAdjust="spacingAndGlyphs">Fibrinogen (mg/dL)</text>
<text x="258.3" y="716.9" font-size="10" fill="#222" style="stroke:#222;stroke-width:0.35px" text-anchor="middle" textLength="51.8" lengthAdjust="spacingAndGlyphs">Days post CAR T</text>
<path d="M1.5 1V725" stroke="#000" stroke-opacity="0.45" stroke-width="1" fill="none"/>
<path d="M2.5 1V725" stroke="#000" stroke-opacity="0.06" stroke-width="1" fill="none"/>
<path d="M1 1.5H519" stroke="#000" stroke-opacity="0.25" stroke-width="1" fill="none"/>
<rect x="0.5" y="0.5" width="519" height="725" fill="none" stroke="#000" stroke-width="1"/>
</svg></body></html>
